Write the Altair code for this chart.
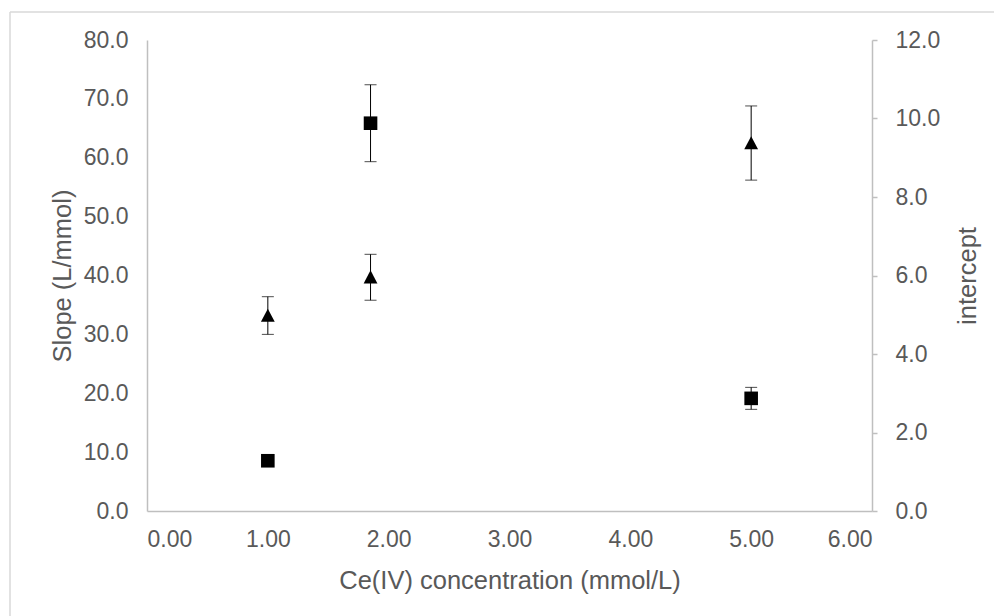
import altair as alt
import pandas as pd

# Data
conc = [1.00, 1.85, 5.00]
slope = [33.2, 39.7, 62.5]          # triangles, left axis
slope_err = [3.2, 3.9, 6.3]
intercept = [1.28, 9.88, 2.87]      # squares, right axis
intercept_err = [0.10, 0.98, 0.28]

x_ticks = [0, 1, 2, 3, 4, 5, 6]
left_ticks = [0, 10, 20, 30, 40, 50, 60, 70, 80]
right_ticks = [0, 2, 4, 6, 8, 10, 12]

df = pd.DataFrame({
    "conc": conc,
    "slope": slope,
    "slope_err": slope_err,
    "intercept": intercept,
    "intercept_err": intercept_err,
})

FONT = "Liberation Sans"
TXT = "#595959"
AXC = "#BFBFBF"
W, H = 725, 471

x_enc = alt.X("conc:Q", scale=alt.Scale(domain=[0, 6], nice=False),
              axis=alt.Axis(values=x_ticks, format=".2f", ticks=False, labelPadding=17,
                            title="Ce(IV) concentration (mmol/L)",
                            titleX=W / 2, titleY=69, titleAlign="center", titleBaseline="middle"))

left_axis = alt.Axis(values=left_ticks, format=".1f", ticks=False, labelPadding=19, orient="left",
                     title="Slope (L/mmol)", titleAngle=270, titleX=-85, titleY=H / 2,
                     titleAlign="center", titleBaseline="middle")
right_axis = alt.Axis(values=right_ticks, format=".1f", ticks=True, tickSize=5, tickColor=AXC,
                      tickWidth=1.5, labelPadding=18, orient="right",
                      title="intercept", titleAngle=270, titleX=95, titleY=H / 2,
                      titleAlign="center", titleBaseline="middle")

lscale = alt.Scale(domain=[0, 80], nice=False)
rscale = alt.Scale(domain=[0, 12], nice=False)

base = alt.Chart(df).transform_calculate(
    s_lo="datum.slope - datum.slope_err",
    s_hi="datum.slope + datum.slope_err",
    i_lo="datum.intercept - datum.intercept_err",
    i_hi="datum.intercept + datum.intercept_err",
)

ERR = "#000000"

def group(val, lo, hi, scale, axis, shape, size):
    bar = base.mark_rule(color=ERR, strokeWidth=1).encode(
        x=x_enc, y=alt.Y(f"{lo}:Q", scale=scale, axis=axis), y2=f"{hi}:Q")
    cap_lo = base.mark_tick(color=ERR, orient="horizontal", size=12, thickness=1).encode(
        x=x_enc, y=alt.Y(f"{lo}:Q", scale=scale, axis=axis))
    cap_hi = base.mark_tick(color=ERR, orient="horizontal", size=12, thickness=1).encode(
        x=x_enc, y=alt.Y(f"{hi}:Q", scale=scale, axis=axis))
    pts = base.mark_point(filled=True, color="#000000", opacity=1, shape=shape, size=size,
                          strokeWidth=0).encode(
        x=x_enc, y=alt.Y(f"{val}:Q", scale=scale, axis=axis))
    return alt.layer(bar, cap_lo, cap_hi, pts)

left = group("slope", "s_lo", "s_hi", lscale, left_axis, "M-1,0.9L0,-1L1,0.9Z", 190)
right = group("intercept", "i_lo", "i_hi", rscale, right_axis, "square", 185)

bdf = pd.DataFrame({"a": [0]})
border_left = alt.Chart(bdf).mark_rule(color="#D9D9D9", strokeWidth=1.5).encode(
    x=alt.value(-137), y=alt.value(-28), y2=alt.value(H + 110))
border_top = alt.Chart(bdf).mark_rule(color="#D9D9D9", strokeWidth=1.5).encode(
    x=alt.value(-137), x2=alt.value(W + 130), y=alt.value(-28))

chart = alt.layer(border_left, border_top, left, right).resolve_scale(y="independent").properties(
    width=W, height=H,
    padding={"left": 147, "top": 40, "right": 994 - 147 - W, "bottom": 616 - 40 - H},
    autosize=alt.AutoSizeParams(type="none"),
).configure_axis(
    labelFont=FONT, labelFontSize=23, labelColor=TXT,
    titleFont=FONT, titleFontSize=25.5, titleFontWeight="normal", titleColor=TXT,
    domainColor=AXC, domainWidth=1.5, grid=False,
).configure_view(stroke=None)

chart.save("out.html", embed_options={"renderer": "svg", "actions": False})
